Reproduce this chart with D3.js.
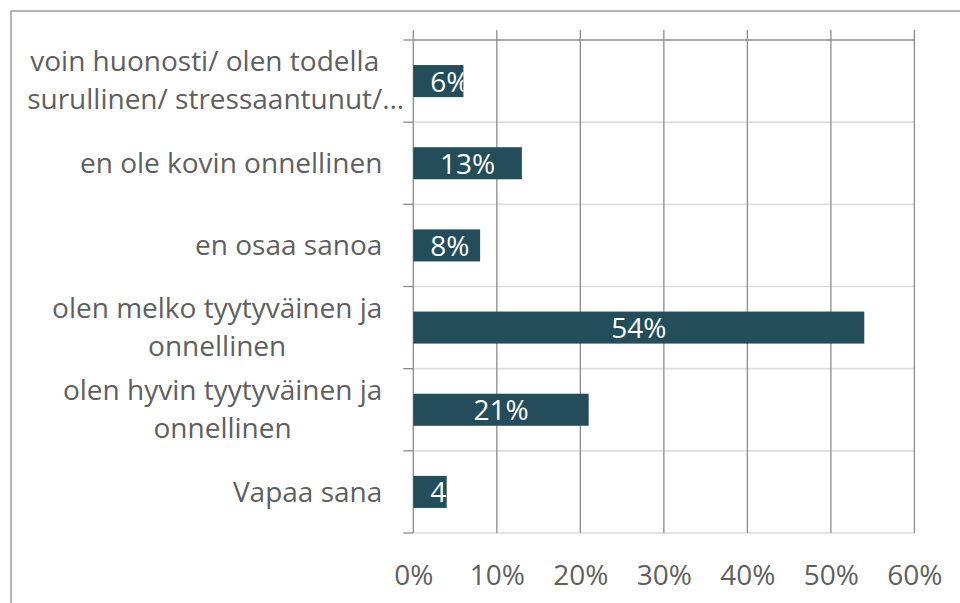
<!DOCTYPE html>
<html>
<head>
<meta charset="utf-8">
<script src="https://cdn.jsdelivr.net/npm/d3@7"></script>
<style>
  body { margin: 0; background: #fff; }
  svg { display: block; font-family: "Open Sans", sans-serif; }
</style>
</head>
<body>
<svg width="960" height="603"></svg>
<script>
// categories top to bottom, "\n" = where the label wraps
var categories = [
  "voin huonosti/ olen todella\nsurullinen/ stressaantunut/…",
  "en ole kovin onnellinen",
  "en osaa sanoa",
  "olen melko tyytyväinen ja\nonnellinen",
  "olen hyvin tyytyväinen ja\nonnellinen",
  "Vapaa sana"
];
var values = [6, 13, 8, 54, 21, 4];
var ticks = [0, 10, 20, 30, 40, 50, 60];

var svg = d3.select("svg"),
    width = +svg.attr("width"),
    height = +svg.attr("height");

var barColor = "#234d5b",
    textColor = "#5f5f5f",
    gridColor = "#8c8c8c",
    sepColor = "#dedede",
    fontSize = 28;

var x = d3.scaleLinear().domain([0, 60]).range([413.3, 914.4]);
var y = d3.scaleBand()
    .domain(categories)
    .range([40, 533])
    .paddingInner(0.61)
    .paddingOuter(0.305);

// outer chart frame (runs off the page right and bottom)
svg.append("rect")
    .attr("x", 11).attr("y", 11)
    .attr("width", 2000).attr("height", 2000)
    .attr("fill", "none")
    .attr("stroke", gridColor)
    .attr("stroke-width", 1.3);

var plotTop = y.range()[0], plotBottom = y.range()[1];
var bounds = d3.range(categories.length + 1).map(function(i) { return plotTop + i * y.step(); });

// category separators
svg.selectAll("line.sep")
  .data(bounds)
  .enter().append("line")
    .attr("class", "sep")
    .attr("x1", x(0)).attr("x2", x(60))
    .attr("y1", function(d) { return d; })
    .attr("y2", function(d) { return d; })
    .attr("stroke", function(d, i) { return i == 0 ? gridColor : sepColor; })
    .attr("stroke-width", function(d, i) { return i == 0 ? 1.3 : 1.6; });

// little ticks left of the axis
svg.selectAll("line.tick")
  .data(bounds)
  .enter().append("line")
    .attr("class", "tick")
    .attr("x1", x(0) - 10).attr("x2", x(0))
    .attr("y1", function(d) { return d; })
    .attr("y2", function(d) { return d; })
    .attr("stroke", gridColor)
    .attr("stroke-width", 1.3);

// vertical gridlines
svg.selectAll("line.grid")
  .data(ticks)
  .enter().append("line")
    .attr("class", "grid")
    .attr("x1", function(d) { return x(d); })
    .attr("x2", function(d) { return x(d); })
    .attr("y1", plotTop - 10).attr("y2", plotBottom)
    .attr("stroke", gridColor)
    .attr("stroke-width", 1.3);

// bars
var cell = svg.selectAll("g.bar")
  .data(categories)
  .enter().append("g")
    .attr("class", "bar");

cell.append("clipPath")
    .attr("id", function(d, i) { return "clip-" + i; })
  .append("rect")
    .attr("x", x(0))
    .attr("y", function(d) { return y(d); })
    .attr("width", function(d, i) { return x(values[i]) - x(0); })
    .attr("height", y.bandwidth());

cell.append("rect")
    .attr("x", x(0))
    .attr("y", function(d) { return y(d); })
    .attr("width", function(d, i) { return x(values[i]) - x(0); })
    .attr("height", y.bandwidth())
    .attr("fill", barColor);

cell.append("text")
    .attr("clip-path", function(d, i) { return "url(#clip-" + i + ")"; })
    .attr("y", function(d) { return y(d) + y.bandwidth() / 2 + 10.5; })
    .attr("fill", "#fff")
    .attr("font-size", fontSize)
    .text(function(d, i) { return values[i] + "%"; })
    .attr("x", function(d, i) {
      var w = this.getComputedTextLength();
      var c = (x(0) + x(values[i])) / 2;
      return Math.max(c - w / 2, x(0) + 17);
    });

// category labels, each block centred and right aligned to the axis
var labelRight = x(0) - 31;
categories.forEach(function(name) {
  var lines = name.split("\n");
  var cy = y(name) + y.bandwidth() / 2;
  var g = svg.append("g");
  var texts = lines.map(function(line, j) {
    return g.append("text")
        .attr("y", cy + 10 - 20 * (lines.length - 1) + j * 38)
        .attr("fill", textColor)
        .attr("font-size", fontSize)
        .text(line.replace("…", ""));
  });
  var widths = texts.map(function(t) { return t.node().getComputedTextLength(); });
  var blockW = d3.max(widths);
  var mid = labelRight - blockW / 2;
  texts.forEach(function(t, j) {
    t.attr("x", mid - widths[j] / 2).text(lines[j]);
  });
});

// x axis labels
var axis = d3.axisBottom(x)
    .tickValues(ticks)
    .tickSize(0)
    .tickFormat(function(d) { return d + "%"; });

var ax = svg.append("g")
    .attr("transform", "translate(0," + plotBottom + ")")
    .call(axis);
ax.select(".domain").remove();
ax.selectAll("text")
    .attr("y", 52)
    .attr("dy", 0)
    .attr("fill", textColor)
    .attr("font-size", fontSize)
    .attr("font-family", "Open Sans, sans-serif");
</script>
</body>
</html>
